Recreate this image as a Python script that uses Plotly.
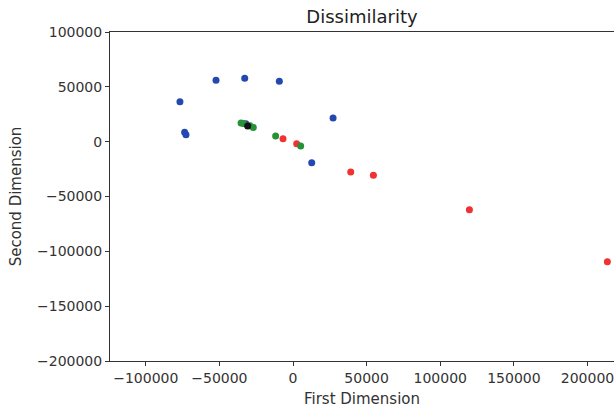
import plotly.graph_objects as go

# Data
blue_x = [-76800, -52300, -32800, -9300, 27200, -73600, -72700, 12700, -32000]
blue_y = [36500, 55900, 57800, 55000, 21600, 8500, 6400, -19200, 16400]

green_x = [-35300, -33800, -29200, -27000, -11800, 5200]
green_y = [17100, 16600, 14600, 13000, 5200, -3900]

black_x = [-30800]
black_y = [14300]

red_x = [-6800, 2500, 39200, 54600, 119800, 213500]
red_y = [2700, -1800, -27600, -30700, -62000, -109500]

x_ticks = [-100000, -50000, 0, 50000, 100000, 150000, 200000]
y_ticks = [100000, 50000, 0, -50000, -100000, -150000, -200000]


def fmt(v):
    return str(v).replace("-", "\u2212")


fig = go.Figure()
marker_size = 7
for xs, ys, col in [
    (blue_x, blue_y, "#2348b0"),
    (red_x, red_y, "#f03232"),
    (green_x, green_y, "#259237"),
    (black_x, black_y, "#111111"),
]:
    fig.add_trace(go.Scatter(x=xs, y=ys, mode="markers",
                             marker=dict(color=col, size=marker_size, line=dict(width=0)),
                             cliponaxis=False, showlegend=False))

fig.update_layout(
    width=614, height=411,
    margin=dict(l=110, r=0, t=32, b=50),
    paper_bgcolor="white", plot_bgcolor="white",
    font=dict(family="DejaVu Sans", size=14, color="#333333"),
    title=dict(text="Dissimilarity", x=(110 + 614) / 2 / 614, xanchor="center",
               y=1 - 17 / 411, yanchor="middle", automargin=False,
               font=dict(family="DejaVu Sans", size=18, color="#222222")),
    showlegend=False,
)
fig.update_xaxes(
    range=[-124300, 218000], automargin=False,
    tickvals=x_ticks, ticktext=[fmt(v) for v in x_ticks],
    tickfont=dict(size=14),
    showgrid=False, zeroline=False,
    showline=True, linecolor="#333333", linewidth=1, mirror=True,
    ticks="outside", ticklen=4, tickcolor="#333333",
    ticklabeloverflow="allow",
    title=dict(text="First Dimension", font=dict(family="DejaVu Sans", size=15, color="#333333"),
               standoff=8),
)
fig.update_yaxes(
    range=[-200000, 100000], automargin=False,
    tickvals=y_ticks, ticktext=[fmt(v) for v in y_ticks],
    tickfont=dict(size=14),
    showgrid=False, zeroline=False,
    showline=True, linecolor="#333333", linewidth=1, mirror=False,
    ticks="outside", ticklen=4, tickcolor="#333333",
    title=dict(text="Second Dimension", font=dict(family="DejaVu Sans", size=15, color="#333333"),
               standoff=11),
)

# remove the default page margin so the 614x411 figure fills the window exactly
fig.write_html("out.html",
               config={"displayModeBar": False},
               post_script="document.body.style.margin='0';document.body.style.overflow='hidden';")
